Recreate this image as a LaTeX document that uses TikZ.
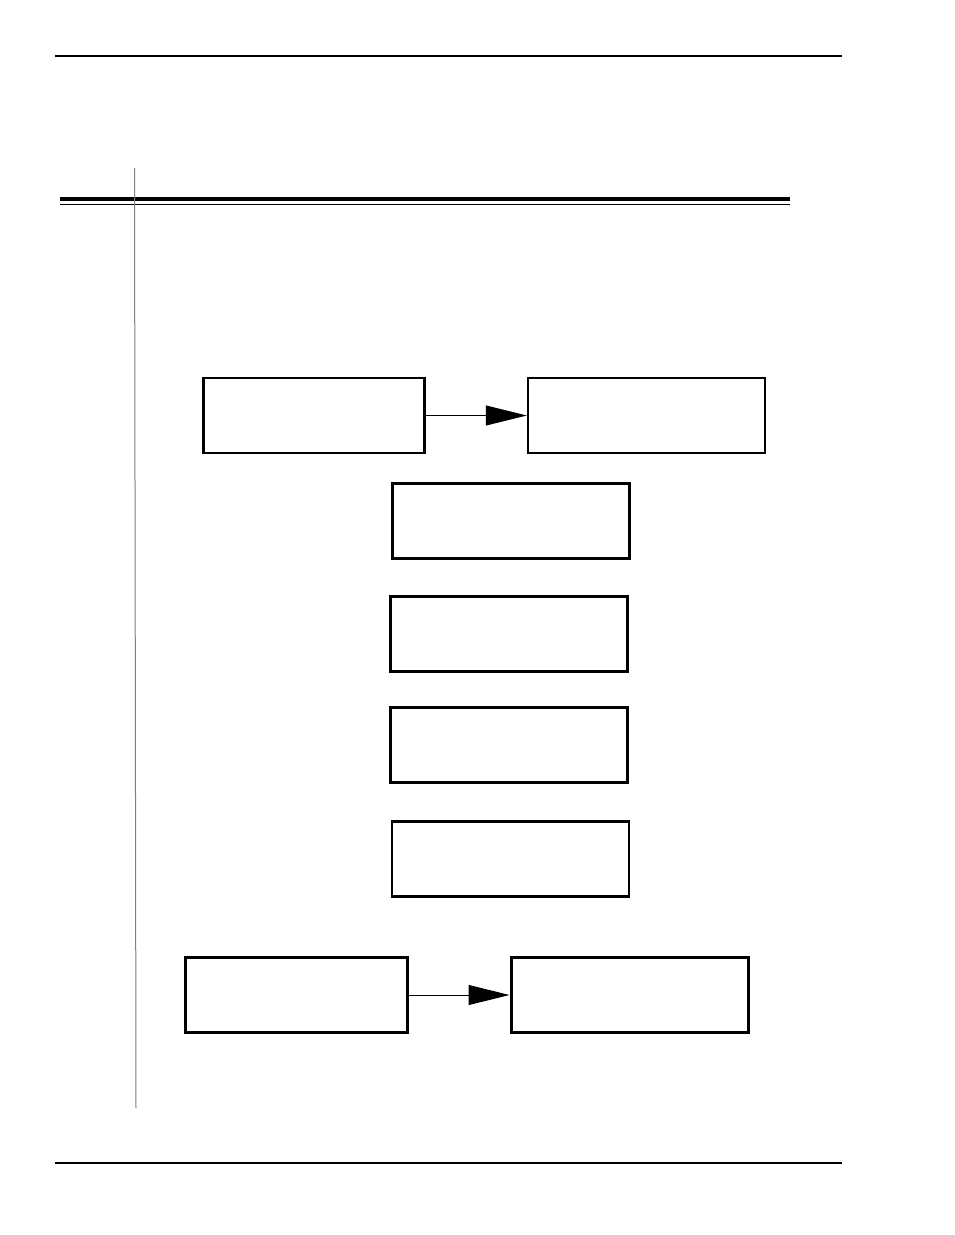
\documentclass[tikz,border=0pt]{standalone}
\usetikzlibrary{arrows.meta}
\begin{document}
\begin{tikzpicture}[x=1pt,y=-1pt,
  boxst/.style={draw=black, line width=2.4pt, fill=white, minimum width=237pt, minimum height=75pt, inner sep=0pt},
  boxthick/.style={boxst, line width=3pt},
  flow/.style={line width=1pt, -{Triangle[length=41pt,width=20pt]}},
  rule/.style={line width=1.2pt}]
\useasboundingbox (0,0) rectangle (954,1235);
% page rules
\coordinate (t1) at (55,56); \coordinate (t2) at (842,56);
\draw[rule] (t1) -- (t2);
\coordinate (b1l) at (55,1163); \coordinate (b2r) at (842,1163);
\draw[rule] (b1l) -- (b2r);
\coordinate (h1) at (60,199); \coordinate (h2) at (790,199);
\draw[line width=4pt] (h1) -- (h2);
\coordinate (h3) at (60,204.5); \coordinate (h4) at (790,204.5);
\draw[line width=1pt] (h3) -- (h4);
\coordinate (v1) at (134.5,168); \coordinate (v2) at (136,1108);
\draw[line width=1pt, gray] (v1) -- (v2);
% boxes
\node[boxst, minimum width=221pt] (a) at (314,415.5) {};
\node[boxst] (b) at (646.5,415.5) {};
\node[boxthick] (c) at (510.5,521) {};
\node[boxthick] (d) at (508.5,634) {};
\node[boxthick] (e) at (508.5,745) {};
\node[boxst] (f) at (510.5,859) {};
\node[boxthick, minimum width=222pt] (g) at (296.5,995) {};
\node[boxthick] (h) at (629.5,995) {};
% connectors
\draw[flow] (a.east) -- (b.west);
\draw[flow] (g.east) -- (h.west);
\end{tikzpicture}
\end{document}
